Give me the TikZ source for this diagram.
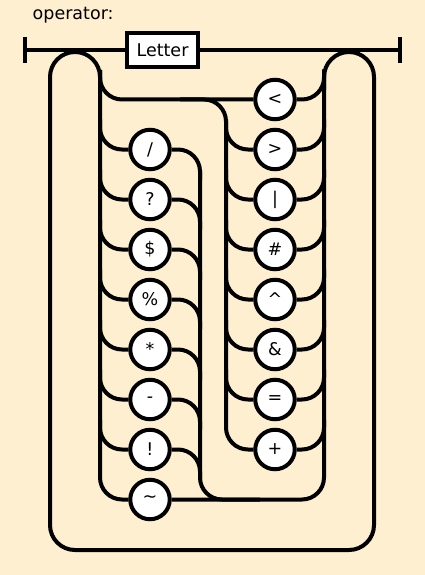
\documentclass[tikz,border=0pt]{standalone}
\usepackage{fontspec}
\setmainfont{DejaVu Sans}
\definecolor{bgcol}{HTML}{FFEFD1}
\newcommand\rrfont{\fontsize{17.5pt}{20pt}\selectfont}
\pgfdeclarelayer{bgfill}
\pgfdeclarelayer{lines}
\pgfsetlayers{bgfill,lines,main}
\begin{document}
\begin{tikzpicture}[x=1pt,y=-1pt,
  rr/.style={draw=black, line width=4pt, rounded corners=22pt},
  loopline/.style={draw=black, line width=4pt, rounded corners=25pt},
  term/.style={circle, draw=black, fill=white, line width=4pt, minimum size=39.5pt, inner sep=0pt, font=\rrfont},
  nonterm/.style={rectangle, draw=black, fill=white, line width=4pt, minimum width=71pt, minimum height=34pt, inner sep=0pt, font=\rrfont},
  bar/.style={draw=black, line width=4pt}]
\begin{pgfonlayer}{bgfill}
\fill[bgcol] (0,0) rectangle (425,575);
\end{pgfonlayer}
\useasboundingbox (0,0) rectangle (425,575);
\node[anchor=base west, font=\rrfont, inner sep=0pt] (title) at (32.5,20) {operator:};
\coordinate (start) at (25,50);
\coordinate (finish) at (400,50);
\node[nonterm] (letter) at (162.5,50) {Letter};
% left column terminals
\foreach \s [count=\k] in {/,?,\$,\%,*,-,!,\textasciitilde}
  \node[term] (l\k) at (150,{99.5+50*\k}) {\s};
% right column terminals
\foreach \s [count=\k from 0] in {<,>,|,\#,\textasciicircum,\&,=,+}
  \node[term] (r\k) at (275,{99.5+50*\k}) {\s};
\coordinate (mL) at (200,170);
\coordinate (mLend) at (260,499.5);
\coordinate (sR) at (180,99.5);
\begin{pgfonlayer}{lines}
% start and end bars
\draw[bar] ([yshift=13pt]start) -- ([yshift=-13pt]start);
\draw[bar] ([yshift=13pt]finish) -- ([yshift=-13pt]finish);
\draw[bar] (start) -- (letter.west);
\draw[bar] (letter.east) -- (finish);
% outer return loop
\draw[loopline] (100,90) -- (100,52) -- (50,52) -- (50,550) -- (374,550) -- (374,52) -- (324,52) -- (324,90);
% left split vertical and bottom item
\draw[rr] (100,70) |- (l8.west);
% top row
\draw[rr] (100,70) |- (r0.west);
% left items
\foreach \k in {1,...,7} {
  \draw[rr] (100,{99.5+50*\k-30}) |- (l\k.west);
  \draw[rr] (l\k.east) -| (200,{99.5+50*\k+30});
}
% left merge vertical
\draw[rr] (mL) |- (mLend);
% bottom row and right merge vertical
\draw[rr] (l8.east) -| (324,70);
% right split vertical
\draw[rr] (sR) -- (226,99.5) |- (r7.west);
\foreach \k in {1,...,6}
  \draw[rr] (226,{99.5+50*\k-30}) |- (r\k.west);
\foreach \k in {0,...,7}
  \draw[rr] (r\k.east) -| (324,{99.5+50*\k-30});
\end{pgfonlayer}
\end{tikzpicture}
\end{document}
